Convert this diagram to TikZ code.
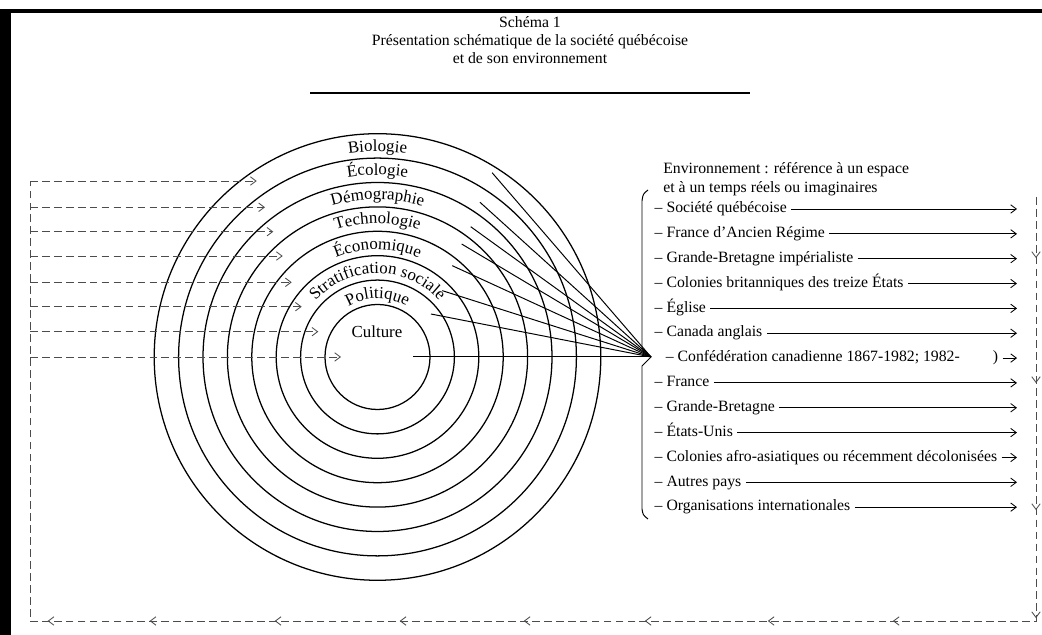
\documentclass[tikz,border=0pt]{standalone}
\usepackage{fontspec}
\setmainfont{Liberation Serif}
\usetikzlibrary{arrows.meta, positioning, decorations.text, decorations.markings}

\begin{document}
\begin{tikzpicture}[
        x=0.025cm, y=0.025cm,
        node distance=0.621cm,
        >={Straight Barb[length=4pt, width=6pt]},
        font=\fontsize{11.2}{13.5}\selectfont,
        titre/.style={align=center, font=\fontsize{11.2}{12.6}\selectfont},
        entete/.style={anchor=west, align=left, inner sep=0pt},
        rubrique/.style={anchor=west, inner sep=1pt, text height=1.6ex, text depth=0.45ex},
        etiquette/.style={font=\fontsize{12}{14}\selectfont},
        cercle/.style={line width=0.9pt},
        rayon/.style={line width=0.7pt},
        accolade/.style={line width=0.7pt},
        fleche/.style={->, line width=0.6pt, shorten <=2pt},
        retour/.style={->, black!70, line width=0.6pt, dash pattern=on 5.5pt off 3pt},
        boucle/.style={black!70, line width=0.6pt, dash pattern=on 5.5pt off 3pt,
            postaction={decorate, decoration={markings,
                mark=at position 1.525cm with {\arrow{>}},
                mark=at position 4.65cm with {\arrow{>}},
                mark=at position 7.825cm with {\arrow{>}},
                mark=at position 10.525cm with {\arrow{>}},
                mark=at position 14.175cm with {\arrow{>}},
                mark=at position 17.3cm with {\arrow{>}},
                mark=at position 20.375cm with {\arrow{>}},
                mark=at position 23.4cm with {\arrow{>}},
                mark=at position 26.5cm with {\arrow{>}},
                mark=at position 29.625cm with {\arrow{>}},
                mark=at position 32.75cm with {\arrow{>}},
                mark=at position 35.3cm with {\arrow{>}}}}},
        anneau/.style={decorate, decoration={text along path, text align=center,
            text={|\fontsize{12}{14}\selectfont|#1}}}
    ]
    \useasboundingbox (0,0) rectangle (1042,635);

    % cadre
    \fill (0,0) rectangle (11,626);
    \fill (0,622) rectangle (1042,626);

    % TITRE
    \node[titre] (titre) at (530,595) {Schéma 1\\Présentation schématique de la société québécoise\\et de son environnement};
    \draw[line width=1.5pt] (310,542) -- (750,542);

    % --- SOCIETE : CERCLES ---
    \coordinate (c) at (377.5,278);
    \draw[cercle] (c) circle[radius=52.5];
    \draw[cercle] (c) circle[radius=76.9];
    \draw[cercle] (c) circle[radius=101.3];
    \draw[cercle] (c) circle[radius=125.7];
    \draw[cercle] (c) circle[radius=150.1];
    \draw[cercle] (c) circle[radius=174.5];
    \draw[cercle] (c) circle[radius=198.9];
    \draw[cercle] (c) circle[radius=223.3];

    \path[anneau={Biologie}] ([shift={(180:205.5)}]c) arc[start angle=180, end angle=0, radius=205.5];
    \path[anneau={Écologie}] ([shift={(180:182)}]c) arc[start angle=180, end angle=0, radius=182];
    \path[anneau={Démographie}] ([shift={(180:157.5)}]c) arc[start angle=180, end angle=0, radius=157.5];
    \path[anneau={Technologie}] ([shift={(180:133.5)}]c) arc[start angle=180, end angle=0, radius=133.5];
    \path[anneau={Économique}] ([shift={(180:107.5)}]c) arc[start angle=180, end angle=0, radius=107.5];
    \path[anneau={Stratification sociale}] ([shift={(180:83.5)}]c) arc[start angle=180, end angle=0, radius=83.5];
    \path[anneau={Politique}] ([shift={(180:58.5)}]c) arc[start angle=180, end angle=0, radius=58.5];
    \node[etiquette] (cult) at (377,303) {Culture};

    % --- ENVIRONNEMENT ---
    \node[entete] (env) at (663,455.5) {Environnement : référence à un espace\\et à un temps réels ou imaginaires};
    \node[rubrique] (soc) at (653,426) {– Société québécoise};
    \node[rubrique, below=of soc.west, anchor=west] (anc) {– France d’Ancien Régime};
    \node[rubrique, below=of anc.west, anchor=west] (gbi) {– Grande-Bretagne impérialiste};
    \node[rubrique, below=of gbi.west, anchor=west] (col) {– Colonies britanniques des treize États};
    \node[rubrique, below=of col.west, anchor=west] (egl) {– Église};
    \node[rubrique, below=of egl.west, anchor=west] (can) {– Canada anglais};
    \node[rubrique, below=of can.west, anchor=west, xshift=0.28cm] (conf) {– Confédération canadienne 1867-1982; 1982-\hspace{2.1em})};
    \node[rubrique, below=1.242cm of can.west, anchor=west] (fra) {– France};
    \node[rubrique, below=of fra.west, anchor=west] (gb) {– Grande-Bretagne};
    \node[rubrique, below=of gb.west, anchor=west] (eu) {– États-Unis};
    \node[rubrique, below=of eu.west, anchor=west] (afro) {– Colonies afro-asiatiques ou récemment décolonisées};
    \node[rubrique, below=of afro.west, anchor=west] (autres) {– Autres pays};
    \node[rubrique, below=of autres.west, anchor=west] (org) {– Organisations internationales};

    % accolade
    \coordinate (pointe) at (651,278);
    \draw[accolade] (648,445) .. controls (643,441) .. (642,434) -- (642,287) -- (pointe) -- (642,269) -- (642,126) .. controls (643,120) .. (648,116);

    % --- RAYONS ---
    \coordinate (fbio) at ([shift={(58.1:217)}]c);
    \coordinate (feco) at ([shift={(56.5:185.6)}]c);
    \coordinate (fdem) at ([shift={(54.4:160.2)}]c);
    \coordinate (ftec) at ([shift={(53.3:140.9)}]c);
    \coordinate (fecn) at ([shift={(50.7:118)}]c);
    \coordinate (fstr) at ([shift={(45.7:92.7)}]c);
    \coordinate (fpol) at ([shift={(38.8:68.6)}]c);
    \coordinate (fcul) at ([shift={(0:35.5)}]c);
    \draw[rayon] (pointe) -- (fbio);
    \draw[rayon] (pointe) -- (feco);
    \draw[rayon] (pointe) -- (fdem);
    \draw[rayon] (pointe) -- (ftec);
    \draw[rayon] (pointe) -- (fecn);
    \draw[rayon] (pointe) -- (fstr);
    \draw[rayon] (pointe) -- (fpol);
    \draw[rayon] (pointe) -- (fcul);

    % --- FLECHES ---
    \coordinate (fin) at (1017,0);
    \draw[fleche] (soc.east) -- (soc.east -| fin);
    \draw[fleche] (anc.east) -- (anc.east -| fin);
    \draw[fleche] (gbi.east) -- (gbi.east -| fin);
    \draw[fleche] (col.east) -- (col.east -| fin);
    \draw[fleche] (egl.east) -- (egl.east -| fin);
    \draw[fleche] (can.east) -- (can.east -| fin);
    \draw[fleche] (conf.east) -- (conf.east -| fin);
    \draw[fleche] (fra.east) -- (fra.east -| fin);
    \draw[fleche] (gb.east) -- (gb.east -| fin);
    \draw[fleche] (eu.east) -- (eu.east -| fin);
    \draw[fleche] (afro.east) -- (afro.east -| fin);
    \draw[fleche] (autres.east) -- (autres.east -| fin);
    \draw[fleche] (org.east) -- (org.east -| fin);

    % --- RETOUR ---
    \coordinate (hd) at (1036,438);
    \coordinate (bd) at (1036,14);
    \coordinate (bg) at (30,14);
    \coordinate (hg) at (30,454);
    \draw[boucle] (hd) -- (bd) -- (bg) -- (hg);

    \coordinate (gbio) at (256.7,454);
    \coordinate (geco) at (265,427.7);
    \coordinate (gdem) at (273.3,403.3);
    \coordinate (gtec) at (282.7,379);
    \coordinate (gecn) at (291.7,352.7);
    \coordinate (gstr) at (301.7,328.3);
    \coordinate (gpol) at (318.3,303.3);
    \coordinate (gcul) at (341,278);
    \draw[retour] (gbio -| hg) -- (gbio);
    \draw[retour] (geco -| hg) -- (geco);
    \draw[retour] (gdem -| hg) -- (gdem);
    \draw[retour] (gtec -| hg) -- (gtec);
    \draw[retour] (gecn -| hg) -- (gecn);
    \draw[retour] (gstr -| hg) -- (gstr);
    \draw[retour] (gpol -| hg) -- (gpol);
    \draw[retour] (gcul -| hg) -- (gcul);

    \end{tikzpicture}
\end{document}
